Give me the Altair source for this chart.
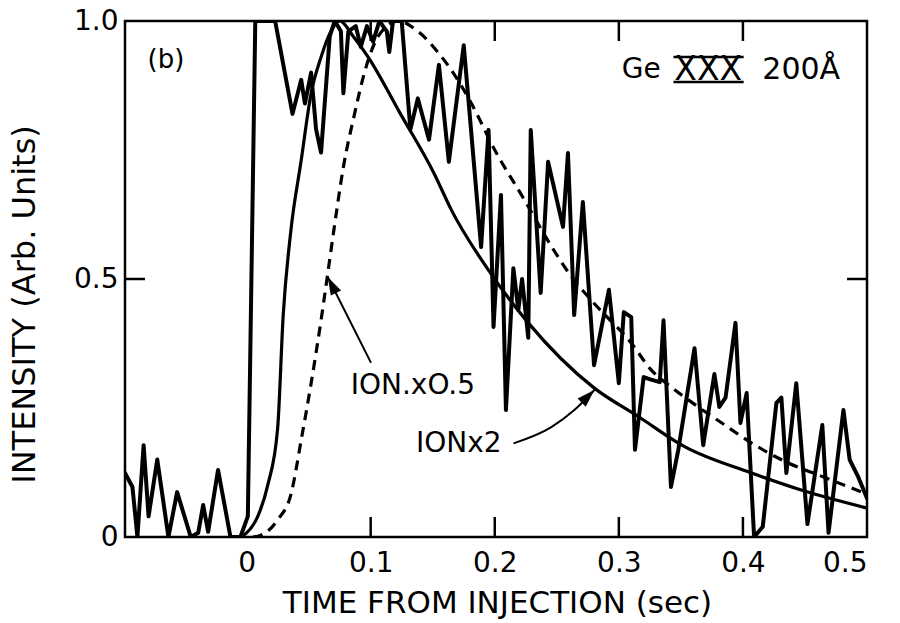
import altair as alt
import pandas as pd

# ---- data ----
trace_t = [-0.098, -0.092, -0.088, -0.083, -0.079, -0.072, -0.063, -0.056, -0.045, -0.039,
           -0.035, -0.031, -0.023, -0.013, -0.005, 0.001, 0.007, 0.023,
           0.037, 0.044, 0.047, 0.052, 0.056, 0.060, 0.067, 0.071, 0.076, 0.078,
           0.082, 0.088, 0.092, 0.097, 0.102, 0.107, 0.113, 0.115, 0.118, 0.125,
           0.132, 0.138, 0.147, 0.155, 0.163, 0.175, 0.189, 0.195, 0.199, 0.205,
           0.209, 0.215, 0.219, 0.222, 0.227, 0.229, 0.237, 0.243, 0.255, 0.259,
           0.264, 0.271, 0.280,
           0.292, 0.300, 0.304, 0.310, 0.313, 0.320, 0.326, 0.333, 0.336, 0.342,
           0.348, 0.361, 0.368, 0.377, 0.381, 0.386, 0.394, 0.398, 0.403, 0.409,
           0.416, 0.427, 0.431, 0.435, 0.443, 0.452, 0.464, 0.469, 0.481, 0.486,
           0.493, 0.500]
trace_i = [0.124, 0.097, 0.0, 0.178, 0.04, 0.15, 0.0, 0.087, 0.0, 0.008,
           0.062, 0.01, 0.13, 0.0, 0.0, 0.04, 1.0, 1.0,
           0.82, 0.886, 0.84, 0.90, 0.79, 0.745, 0.97, 1.0, 0.98, 0.86,
           0.98, 0.99, 0.95, 0.99, 0.96, 1.0, 0.98, 0.94, 1.0, 1.0,
           0.79, 0.85, 0.77, 0.915, 0.727, 0.953, 0.562, 0.789, 0.407, 0.663,
           0.246, 0.521, 0.44, 0.50, 0.386, 0.789, 0.473, 0.727, 0.601, 0.744,
           0.43, 0.649, 0.333,
           0.479, 0.298, 0.436, 0.426, 0.169, 0.31, 0.305, 0.30, 0.42, 0.097,
           0.17, 0.366, 0.178, 0.316, 0.252, 0.27, 0.415, 0.221, 0.279, 0.0,
           0.02, 0.26, 0.27, 0.124, 0.298, 0.025, 0.217, 0.008, 0.246, 0.15,
           0.116, 0.075]

ion2_t = [-0.005, 0.0, 0.009, 0.017, 0.025, 0.0295, 0.0355, 0.044, 0.052, 0.060,
          0.068, 0.075, 0.086, 0.098, 0.124, 0.151, 0.165, 0.197, 0.227, 0.280,
          0.316, 0.353, 0.407, 0.447, 0.500]
ion2_i = [0.0, 0.008, 0.04, 0.10, 0.21, 0.43, 0.59, 0.73, 0.86, 0.93,
          0.98, 1.0, 0.97, 0.93, 0.82, 0.705, 0.634, 0.51, 0.415, 0.289,
          0.233, 0.175, 0.124, 0.091, 0.056]

ion05_t = [0.005, 0.011, 0.025, 0.036, 0.044, 0.052, 0.060, 0.065, 0.070, 0.078,
           0.087, 0.095, 0.106, 0.122, 0.138, 0.154, 0.165, 0.181, 0.200, 0.224,
           0.246, 0.262, 0.280, 0.310, 0.326, 0.342, 0.364, 0.383, 0.407, 0.437,
           0.461, 0.498]
ion05_i = [0.0, 0.003, 0.033, 0.085, 0.188, 0.298, 0.42, 0.504, 0.589, 0.717,
           0.82, 0.90, 0.97, 1.0, 0.98, 0.94, 0.905, 0.841, 0.75, 0.653,
           0.562, 0.504, 0.453, 0.376, 0.324, 0.291, 0.252, 0.221, 0.182, 0.143,
           0.12, 0.085]

x_ticks = [0, 0.1, 0.2, 0.3, 0.4, 0.5]
y_ticks = [0, 0.5, 1.0]
inner_x_ticks = [0.1, 0.2, 0.3, 0.4]
inner_y_ticks = [0.5]

FONT = "DejaVu Sans"
X_MIN, X_MAX = -0.098, 0.5
TICK_PX = 20

def series(t, v):
    return pd.DataFrame({"t": t, "v": v, "o": list(range(len(t)))})

xs = alt.Scale(domain=[X_MIN, X_MAX], nice=False, zero=False)
ys = alt.Scale(domain=[0, 1.0], nice=False, zero=False)

xaxis = alt.Axis(values=x_ticks, labelExpr="datum.value == 0 ? '0' : format(datum.value, '.1f')",
                 ticks=False, tickSize=0, domain=False, grid=False, labelPadding=12,
                 labelFontSize=28, labelFont=FONT, labelColor="black",
                 title="TIME FROM INJECTION (sec)", titleFont=FONT, titleFontSize=31,
                 titleFontWeight="normal", titleColor="black",
                 titleX=372, titleY=66, titleAlign="center", titleBaseline="middle")
yaxis = alt.Axis(values=y_ticks, labelExpr="datum.value == 0 ? '0' : format(datum.value, '.1f')",
                 ticks=False, tickSize=0, domain=False, grid=False, labelPadding=7,
                 labelFontSize=28, labelFont=FONT, labelColor="black",
                 title="INTENSITY (Arb. Units)", titleFont=FONT, titleFontSize=32,
                 titleFontWeight="normal", titleColor="black",
                 titleX=-101, titleY=283, titleAlign="center", titleBaseline="middle", titleAngle=270)

X = alt.X("t:Q", scale=xs, axis=xaxis)
Y = alt.Y("v:Q", scale=ys, axis=yaxis)

def line(df, width, dash=None, interp="linear"):
    kw = dict(color="black", strokeWidth=width, clip=True, strokeJoin="round",
              strokeCap="round", interpolate=interp)
    if dash:
        kw["strokeDash"] = dash
        kw["strokeCap"] = "butt"
    return alt.Chart(df).mark_line(**kw).encode(x=X, y=Y, order="o:Q")

dashed = line(series(ion05_t, ion05_i), 3.2, [10, 7], "monotone")
smooth = line(series(ion2_t, ion2_i), 3.2, None, "monotone")
trace = line(series(trace_t, trace_i), 4)

# inward ticks: position from the scales, length as a fixed pixel size
bx = pd.DataFrame({"t": inner_x_ticks})
btick = alt.Chart(bx).mark_rule(color="black", strokeWidth=2.5).encode(
    x=X, y=alt.value(516), y2=alt.value(516 - TICK_PX))
ttick = alt.Chart(bx).mark_rule(color="black", strokeWidth=2.5).encode(
    x=X, y=alt.value(0), y2=alt.value(TICK_PX))
ly = pd.DataFrame({"v": inner_y_ticks})
ltick = alt.Chart(ly).mark_rule(color="black", strokeWidth=2.5).encode(
    y=Y, x=alt.value(0), x2=alt.value(TICK_PX))
rtick = alt.Chart(ly).mark_rule(color="black", strokeWidth=2.5).encode(
    y=Y, x=alt.value(742 - TICK_PX), x2=alt.value(742))

# arrows
arrow1 = line(series([0.100, 0.0654], [0.339, 0.504]), 2)
arrow2 = line(series([0.2157, 0.2456, 0.2641, 0.2803], [0.182, 0.213, 0.246, 0.285]), 2,
              None, "monotone")
heads = pd.DataFrame({"t": [0.0654, 0.2803], "v": [0.504, 0.285], "a": [333, 45]})
head_layer = alt.Chart(heads).mark_point(
    shape="M0,0 L0.32,1 L-0.32,1 Z", filled=True, color="black", size=1300, opacity=1
).encode(x=X, y=Y, angle=alt.Angle("a:Q", scale=None))

# text annotations
labels = pd.DataFrame({
    "t": [-0.065, 0.318, 0.372, 0.447, 0.134, 0.171],
    "v": [0.925, 0.905, 0.905, 0.905, 0.293, 0.18],
    "s": ["(b)", "Ge", "XXX", "200Å", "ION.xO.5", "IONx2"],
    "f": [26, 28, 33, 30, 28, 28],
})
text_layer = alt.Chart(labels).mark_text(
    font=FONT, color="black", align="center", baseline="middle"
).encode(x=X, y=Y, text="s:N", size=alt.Size("f:Q", scale=None))

bars = pd.DataFrame({"t": [0.344, 0.344], "t2": [0.4006, 0.4006], "v": [0.93, 0.882]})
bar_layer = alt.Chart(bars).mark_rule(color="black", strokeWidth=2.5).encode(
    x=X, x2=alt.X2("t2:Q"), y=Y)

chart = alt.layer(
    dashed, smooth, trace, arrow1, arrow2, head_layer,
    text_layer, bar_layer, btick, ttick, ltick, rtick
).properties(
    width=742, height=516,
    autosize=alt.AutoSizeParams(type="none"),
    padding={"left": 125, "top": 21, "right": 33, "bottom": 86},
    background="white",
).configure_view(stroke="black", strokeWidth=2.5)

chart.save("out.html", embed_options={"renderer": "svg", "actions": False})
